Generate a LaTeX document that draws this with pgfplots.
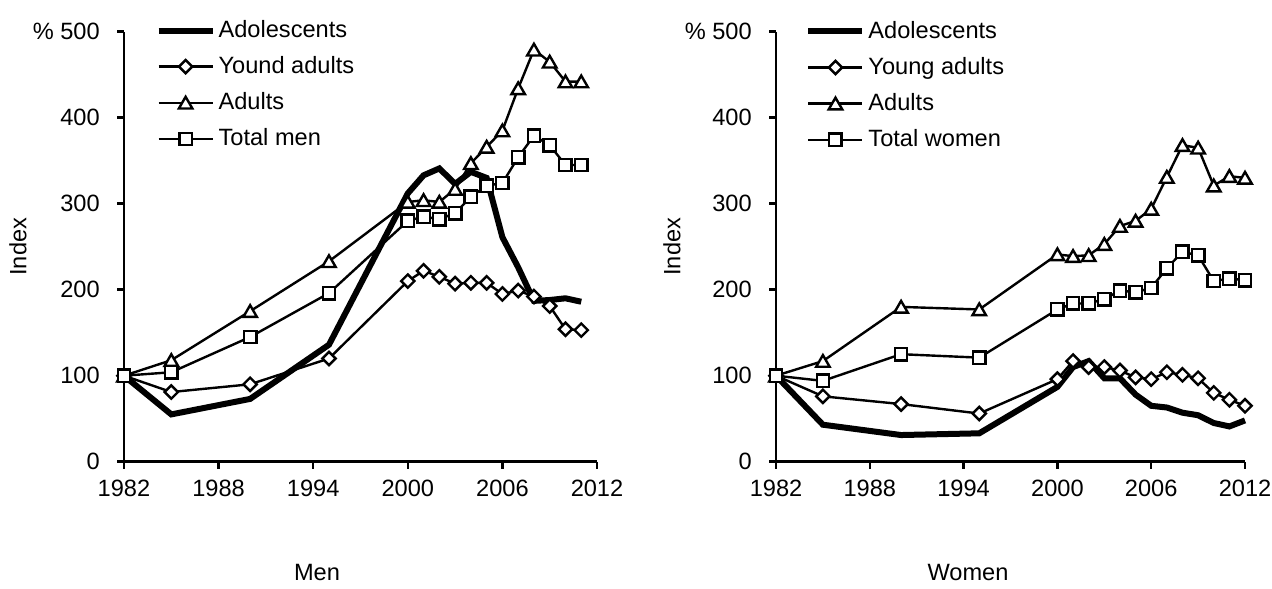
\documentclass[border=0pt]{standalone}
\usepackage{fontspec}
\setmainfont{Liberation Sans}
\usepackage{pgfplots}
\pgfplotsset{compat=1.18}
\begin{document}
\fontsize{11.8}{14}\selectfont
\begin{tikzpicture}
\useasboundingbox (0,0) rectangle (636pt,294pt);
\pgfplotsset{
  myax/.style={
    scale only axis, width=236.5pt, height=215pt,
    xmin=1982, xmax=2012, ymin=0, ymax=500,
    axis x line=bottom, axis y line=left,
    axis line style={line width=1.4pt, -},
    xtick={1982,1988,1994,2000,2006,2012},
    xticklabels={1982,1988,1994,2000,2006,2012},
    ytick={0,100,200,300,400,500},
    yticklabels={0,100,200,300,400,{\% 500}},
    xticklabel style={yshift=-1.5pt},
    yticklabel style={xshift=-4.5pt},
    tick style={line width=1.2pt, black},
    tick align=outside, major tick length=3.5pt,
    ylabel={Index},
    clip=false,
    legend cell align=left,
    legend style={draw=none, fill=none, inner sep=0pt, row sep=3.75pt,
      nodes={inner xsep=1.5pt, inner ysep=2pt}},
    legend image code/.code={\draw[mark repeat=2,mark phase=2,#1] plot coordinates {(0pt,0pt) (13.5pt,0pt) (27pt,0pt)};},
  },
  adol/.style={black, line width=3pt, mark=none},
  yad/.style={black, line width=1.2pt, mark=square*, mark size=2.35pt, mark options={rotate=45, fill=white, line width=1.2pt}},
  adu/.style={black, line width=1.2pt, mark=triangle*, mark size=3.9pt, mark options={yshift=-0.9pt, fill=white, line width=1.2pt}},
  tot/.style={black, line width=1.2pt, mark=square*, mark size=3.1pt, mark options={fill=white, line width=1.2pt}},
}
\begin{axis}[myax, at={(62pt,63.15pt)}, anchor=south west,
  ylabel style={at={(axis description cs:-0.224,0.5)}, anchor=center},
  legend style={at={(0.066,1.037)}, anchor=north west}]
\addplot[adol] coordinates {(1982,100)(1985,55)(1990,73)(1995,136)(2000,312)(2001,333)(2002,341)(2003,323)(2004,337)(2005,330)(2006,261)(2007,226)(2008,187)(2009,188)(2010,190)(2011,186)};
\addlegendentry{Adolescents}
\addplot[yad] coordinates {(1982,100)(1985,81)(1990,90)(1995,120)(2000,210)(2001,222)(2002,215)(2003,207)(2004,208)(2005,208)(2006,195)(2007,199)(2008,192)(2009,181)(2010,154)(2011,153)};
\addlegendentry{Yound adults}
\addplot[adu] coordinates {(1982,100)(1985,118)(1990,175)(1995,233)(2000,302)(2001,304)(2002,302)(2003,317)(2004,347)(2005,366)(2006,385)(2007,434)(2008,479)(2009,465)(2010,442)(2011,442)};
\addlegendentry{Adults}
\addplot[tot] coordinates {(1982,100)(1985,104)(1990,145)(1995,196)(2000,280)(2001,285)(2002,282)(2003,289)(2004,308)(2005,321)(2006,324)(2007,354)(2008,379)(2009,368)(2010,345)(2011,345)};
\addlegendentry{Total men}
\end{axis}
\begin{axis}[myax, at={(388pt,63.15pt)}, anchor=south west, width=234.5pt,
  ylabel style={at={(axis description cs:-0.222,0.5)}, anchor=center},
  legend style={at={(0.062,1.035)}, anchor=north west}]
\addplot[adol] coordinates {(1982,100)(1985,43)(1990,31)(1995,33)(2000,87)(2001,110)(2002,117)(2003,97)(2004,97)(2005,78)(2006,65)(2007,63)(2008,57)(2009,54)(2010,45)(2011,41)(2012,48)};
\addlegendentry{Adolescents}
\addplot[yad] coordinates {(1982,100)(1985,76)(1990,67)(1995,56)(2000,96)(2001,117)(2002,110)(2003,110)(2004,106)(2005,98)(2006,96)(2007,104)(2008,101)(2009,97)(2010,80)(2011,72)(2012,65)};
\addlegendentry{Young adults}
\addplot[adu] coordinates {(1982,100)(1985,117)(1990,180)(1995,177)(2000,241)(2001,239)(2002,240)(2003,253)(2004,274)(2005,280)(2006,294)(2007,331)(2008,368)(2009,365)(2010,321)(2011,332)(2012,330)};
\addlegendentry{Adults}
\addplot[tot] coordinates {(1982,100)(1985,94)(1990,125)(1995,121)(2000,177)(2001,184)(2002,184)(2003,189)(2004,199)(2005,197)(2006,202)(2007,225)(2008,244)(2009,240)(2010,210)(2011,213)(2012,211)};
\addlegendentry{Total women}
\end{axis}
\node at (158.5pt,7.75pt) {Men};
\node at (484pt,7.75pt) {Women};
\end{tikzpicture}
\end{document}
